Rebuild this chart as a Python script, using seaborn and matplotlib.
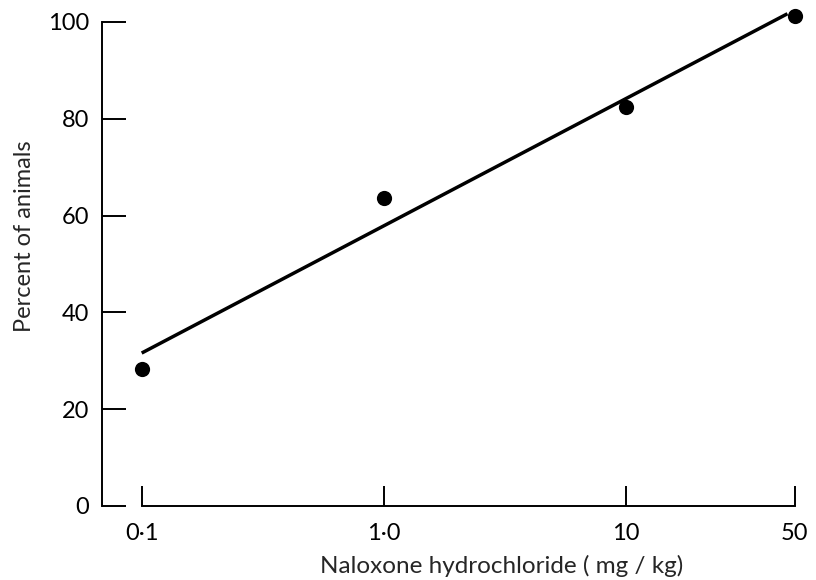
import matplotlib
matplotlib.use("Agg")
import matplotlib.pyplot as plt
import seaborn as sns
import numpy as np

# Data
dose = [0.1, 1.0, 10, 50]
percent = [28.4, 63.6, 82.5, 101.2]
fit_dose = [0.1, 46.6]
fit_percent = [31.6, 101.7]
xticks = [0.1, 1.0, 10, 50]
xticklabels = ["0·1", "1·0", "10", "50"]
yticks = [0, 20, 40, 60, 80, 100]

sns.set_style("ticks")
plt.rcParams['font.family'] = ['Lato', 'DejaVu Sans']

fig = plt.figure(figsize=(8.16, 5.8), dpi=100)
ax = fig.add_axes([102/816, (580-506)/580, 708/816, (506-12.3)/580])

sns.lineplot(x=fit_dose, y=fit_percent, ax=ax, color="black", linewidth=2.5,
             solid_capstyle="butt")
sns.scatterplot(x=dose, y=percent, ax=ax, color="black", s=120,
                edgecolor="black", linewidth=0, zorder=3, clip_on=False)

ax.set_xscale("log")
ax.set_xlim(10**-1.164, 10**1.7616)
ax.set_ylim(0, 102)

ax.set_xticks(xticks)
ax.set_xticklabels(xticklabels)
ax.minorticks_off()
ax.set_yticks(yticks)

ax.tick_params(axis="y", direction="in", length=17, width=1.4, pad=9,
               labelsize=17, colors="black")
ax.tick_params(axis="x", direction="in", length=14.5, width=1.4, pad=12,
               labelsize=17, colors="black")

for s in ["top", "right"]:
    ax.spines[s].set_visible(False)
ax.spines["left"].set_bounds(0, 100)
ax.spines["bottom"].set_bounds(0.1, 50)
for s in ["left", "bottom"]:
    ax.spines[s].set_linewidth(1.4)
    ax.spines[s].set_color("black")

ax.set_xlabel("Naloxone hydrochloride ( mg / kg)", fontsize=17.5)
ax.set_ylabel("Percent of animals", fontsize=17)
ax.xaxis.set_label_coords(0.564, -0.100)
ax.yaxis.set_label_coords(-0.095, 0.547)

fig.savefig("out.png", dpi=100)
